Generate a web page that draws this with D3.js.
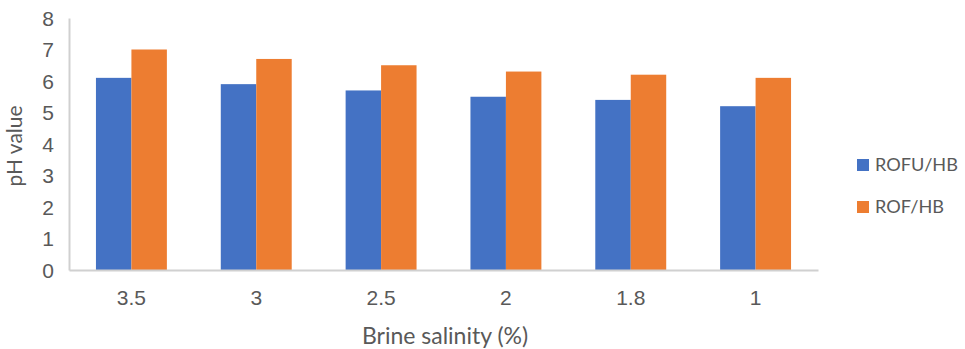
<!DOCTYPE html>
<html>
<head>
<meta charset="utf-8">
<script src="https://cdn.jsdelivr.net/npm/d3@7"></script>
<style>
  html, body { margin: 0; padding: 0; background: #fff; }
  svg { display: block; font-family: Lato, "Open Sans", sans-serif; }
</style>
</head>
<body>
<svg id="chart" width="965" height="349"></svg>
<script>
// Brine salinity categories and pH readings for each series
const categories = ["3.5", "3", "2.5", "2", "1.8", "1"];
const seriesNames = ["ROFU/HB", "ROF/HB"];
const rofuHB = [6.1, 5.9, 5.7, 5.5, 5.4, 5.2];
const rofHB = [7.0, 6.7, 6.5, 6.3, 6.2, 6.1];
const yTicks = [0, 1, 2, 3, 4, 5, 6, 7, 8];
const colors = ["#4472C4", "#ED7D31"];

const rows = categories.map((c, i) => ({ cat: c, values: [rofuHB[i], rofHB[i]] }));

const svg = d3.select("#chart");
const plot = { left: 69, right: 818, top: 18, bottom: 270 };
const textColor = "#595959";
const axisColor = "#D0D0D0";

const x = d3.scaleBand().domain(categories).range([plot.left, plot.right]).paddingInner(0).paddingOuter(0);
const inner = d3.scaleBand().domain(seriesNames).range([0, x.bandwidth()]).paddingInner(0).paddingOuter(0.76);
const y = d3.scaleLinear().domain([0, 8]).range([plot.bottom, plot.top]);

// Bars
const groups = svg.append("g").selectAll("g").data(rows).join("g")
  .attr("transform", d => `translate(${x(d.cat)},0)`);
groups.selectAll("rect").data(d => d.values.map((v, k) => ({ v, k })))
  .join("rect")
  .attr("x", d => inner(seriesNames[d.k]))
  .attr("width", inner.bandwidth())
  .attr("y", d => y(d.v))
  .attr("height", d => y(0) - y(d.v))
  .attr("fill", d => colors[d.k]);

// Y axis
const yAxis = svg.append("g").attr("transform", `translate(${plot.left},0)`)
  .call(d3.axisLeft(y).tickValues(yTicks).tickSize(0).tickPadding(15).tickFormat(d3.format("d")));
yAxis.select(".domain").attr("stroke", axisColor).attr("stroke-width", 2);
yAxis.selectAll("text").attr("fill", textColor).style("font-size", "21px")
  .attr("dy", "0.35em");

// X axis
const xAxis = svg.append("g").attr("transform", `translate(0,${plot.bottom})`)
  .call(d3.axisBottom(x).tickSize(0).tickPadding(20));
xAxis.select(".domain").attr("stroke", axisColor).attr("stroke-width", 2);
xAxis.selectAll("text").attr("fill", textColor).style("font-size", "21px");

// Axis titles
svg.append("text")
  .attr("transform", `translate(22,${(plot.top + plot.bottom) / 2 + 2}) rotate(-90)`)
  .attr("text-anchor", "middle")
  .attr("fill", textColor).style("font-size", "21px")
  .text("pH value");
svg.append("text")
  .attr("x", 445).attr("y", 344)
  .attr("text-anchor", "middle")
  .attr("fill", textColor).style("font-size", "23px")
  .text("Brine salinity (%)");

// Legend: size the labels so the longest one fits the space right of the plot
const legend = svg.append("g").selectAll("g").data(seriesNames).join("g")
  .attr("transform", (d, i) => `translate(857,${159 + i * 42})`);
legend.append("rect").attr("width", 12).attr("height", 12).attr("fill", (d, i) => colors[i]);
const legendText = legend.append("text").attr("x", 18).attr("y", 6).attr("dy", "0.35em")
  .attr("fill", textColor).style("font-size", "20px").text(d => d);
const maxLen = d3.max(legendText.nodes(), n => n.getComputedTextLength());
const legendSize = Math.min(20, 20 * 83 / maxLen);
legendText.style("font-size", legendSize + "px");
</script>
</body>
</html>
